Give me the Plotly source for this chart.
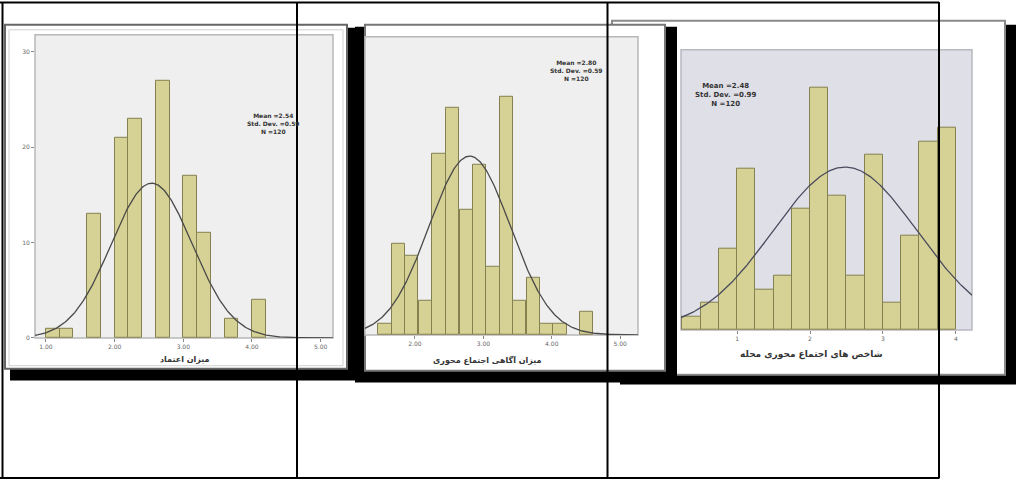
import numpy as np
import plotly.graph_objects as go

W, H = 1016, 483

# ---------------- data ----------------
# Panel 1 (left)
p1_centers = [1.1, 1.3, 1.7, 2.1, 2.3, 2.7, 3.1, 3.3, 3.7, 4.1]
p1_counts = [1, 1, 13, 21, 23, 27, 17, 11, 2, 4]
p1_width = 0.2
p1_mean, p1_sd, p1_n = 2.54, 0.59, 120
p1_xticks = [1, 2, 3, 4, 5]
p1_xlabels = ["1.00", "2.00", "3.00", "4.00", "5.00"]
p1_yticks = [0, 10, 20, 30]
p1_ylabels = ["0", "10", "20", "30"]
p1_title = "میزان اعتماد"

# Panel 2 (middle)
p2_centers = [1.56, 1.76, 1.95, 2.15, 2.35, 2.55, 2.75, 2.94, 3.14, 3.34,
              3.53, 3.73, 3.92, 4.12, 4.51]
p2_counts = [1, 8, 7, 3, 16, 20, 11, 15, 6, 21, 3, 5, 1, 1, 2]
p2_width = 0.196
p2_mean, p2_sd, p2_n = 2.80, 0.595, 120
p2_xticks = [2, 3, 4, 5]
p2_xlabels = ["2.00", "3.00", "4.00", "5.00"]
p2_title = "میزان آگاهی اجتماع محوری"

# Panel 3 (right)
p3_centers = [0.375, 0.625, 0.875, 1.125, 1.375, 1.625, 1.875, 2.125,
              2.375, 2.625, 2.875, 3.125, 3.375, 3.625, 3.875]
p3_counts = [1, 2, 6, 12, 3, 4, 9, 18, 10, 4, 13, 2, 7, 14, 15]
p3_width = 0.25
p3_mean, p3_sd, p3_n = 2.48, 0.99, 120
p3_xticks = [1, 2, 3, 4]
p3_xlabels = ["1", "2", "3", "4"]
p3_title = "شاخص های اجتماع محوری محله"


def X(x):
    return x / W


def Y(y):
    return 1 - y / H


BAR = "#d6d194"
BAR_LINE = "#85804f"

fig = go.Figure()

# plot-area pixel boxes (x0, x1, y0, y1)
boxes = {
    1: (35, 333, 35, 340),
    2: (365, 638, 37, 337),
    3: (681, 972, 50, 332),
}
ranges = {
    1: ([0.84, 5.18], [0, 31.8]),
    2: ([1.27, 5.26], [0, 26.3]),
    3: ([0.232, 4.22], [0, 20.8]),
}

panels = {
    1: (p1_centers, p1_counts, p1_width, p1_mean, p1_sd, p1_n),
    2: (p2_centers, p2_counts, p2_width, p2_mean, p2_sd, p2_n),
    3: (p3_centers, p3_counts, p3_width, p3_mean, p3_sd, p3_n),
}
curve_colors = {1: "#4a4a4a", 2: "#4a4a4a", 3: "#4a4a5e"}

for k, (cen, cnt, w, m, s, n) in panels.items():
    xa = "x" if k == 1 else f"x{k}"
    ya = "y" if k == 1 else f"y{k}"
    fig.add_trace(go.Bar(x=cen, y=cnt, width=w, marker=dict(color=BAR, line=dict(color=BAR_LINE, width=1)),
                         xaxis=xa, yaxis=ya, showlegend=False, hoverinfo="x+y"))
    xr = ranges[k][0]
    xs = np.linspace(xr[0], xr[1], 300)
    ys = n * w / (s * np.sqrt(2 * np.pi)) * np.exp(-0.5 * ((xs - m) / s) ** 2)
    fig.add_trace(go.Scatter(x=xs, y=ys, mode="lines", line=dict(color=curve_colors[k], width=1.3),
                             xaxis=xa, yaxis=ya, showlegend=False, hoverinfo="skip"))

shapes = []


def rect(x0, y0, x1, y1, fill, line=None, lw=0, layer="below"):
    shapes.append(dict(type="rect", xref="paper", yref="paper", x0=X(x0), x1=X(x1), y0=Y(y1), y1=Y(y0),
                       fillcolor=fill, line=dict(color=line or fill, width=lw), layer=layer))


# panel 3 frame (behind panel 2)
rect(620, 25, 1016, 387, "#000000")
rect(612, 21, 1005, 377, "#ffffff", "#8a8a8a", 2)
rect(681, 50, 972, 332, "#dfdfe7", "#b8b8c0", 1.5)
# panel 1 frame
rect(10, 28, 358, 383, "#000000")
rect(5, 25, 347, 371, "#ffffff", "#666666", 2)
rect(9, 30, 343, 368, "#ffffff", "#d0d0d0", 1)
rect(35, 35, 333, 340, "#efefef", "#b8b8b8", 1.5)
# panel 2 frame
rect(355, 27, 677, 385, "#000000")
rect(365, 25, 665, 373, "#ffffff", "#777777", 2)
rect(365, 37, 638, 337, "#efefef", "#b8b8b8", 1.5)


def line(x0, y0, x1, y1, color="#000000", lw=2, layer="above"):
    shapes.append(dict(type="line", xref="paper", yref="paper", x0=X(x0), x1=X(x1), y0=Y(y0), y1=Y(y1),
                       line=dict(color=color, width=lw), layer=layer))


# table lines (over the pictures)
line(0, 2.5, 939, 2.5)
line(2.5, 2, 2.5, 481.5)
line(0, 481, 939, 481)
line(297, 2, 297, 481.5)
line(607.5, 2, 607.5, 481.5)
line(939, 2, 939, 481.5)

fig.update_layout(shapes=shapes)

axis_font = dict(family="DejaVu Sans", size=6, color="#666666")
for k, (x0, x1, y0, y1) in boxes.items():
    xk = "xaxis" if k == 1 else f"xaxis{k}"
    yk = "yaxis" if k == 1 else f"yaxis{k}"
    yname = "y" if k == 1 else f"y{k}"
    xname = "x" if k == 1 else f"x{k}"
    xt = {1: (p1_xticks, p1_xlabels), 2: (p2_xticks, p2_xlabels), 3: (p3_xticks, p3_xlabels)}[k]
    fig.layout[xk] = dict(domain=[X(x0), X(x1)], range=ranges[k][0], anchor=yname, showgrid=False,
                          zeroline=False, showline=False, tickmode="array", tickvals=xt[0], ticktext=xt[1],
                          ticks="outside", ticklen=3, tickcolor="#888888", tickfont=axis_font, fixedrange=True)
    ydict = dict(domain=[Y(y1), Y(y0)], range=ranges[k][1], anchor=xname, showgrid=False, zeroline=False,
                 showline=False, fixedrange=True)
    if k == 1:
        ydict.update(tickmode="array", tickvals=p1_yticks, ticktext=p1_ylabels, ticks="outside", ticklen=3,
                     tickcolor="#888888", tickfont=axis_font)
    else:
        ydict.update(showticklabels=False, ticks="")
    fig.layout[yk] = ydict

annos = []
stat_pos = {1: (273, 124, 6), 2: (576, 71, 6), 3: (725, 96, 7)}
for k, (cen, cnt, w, m, s, n) in panels.items():
    cx, cy, fs = stat_pos[k]
    annos.append(dict(xref="paper", yref="paper", x=X(cx), y=Y(cy), xanchor="center", yanchor="middle",
                      showarrow=False, align="center",
                      text=f"<b>Mean ={m:.2f}<br>Std. Dev. ={s:.2f}<br>N ={n}</b>",
                      font=dict(family="DejaVu Sans", size=fs, color="#333333")))
titles = {1: (p1_title, 185, 362, 8), 2: (p2_title, 487, 362, 8), 3: (p3_title, 811, 357, 9)}
for k, (t, cx, cy, fs) in titles.items():
    annos.append(dict(xref="paper", yref="paper", x=X(cx), y=Y(cy), xanchor="center", yanchor="middle",
                      showarrow=False, text=f"<b>{t}</b>",
                      font=dict(family="DejaVu Sans", size=fs, color="#333333")))
fig.update_layout(annotations=annos)

fig.update_layout(width=W, height=H, margin=dict(l=0, r=0, t=0, b=0), paper_bgcolor="#ffffff",
                  plot_bgcolor="rgba(0,0,0,0)", bargap=0, showlegend=False)

fig.write_html("out.html", config={"displayModeBar": False},
               post_script="document.body.style.margin='0';document.body.style.overflow='hidden';")
